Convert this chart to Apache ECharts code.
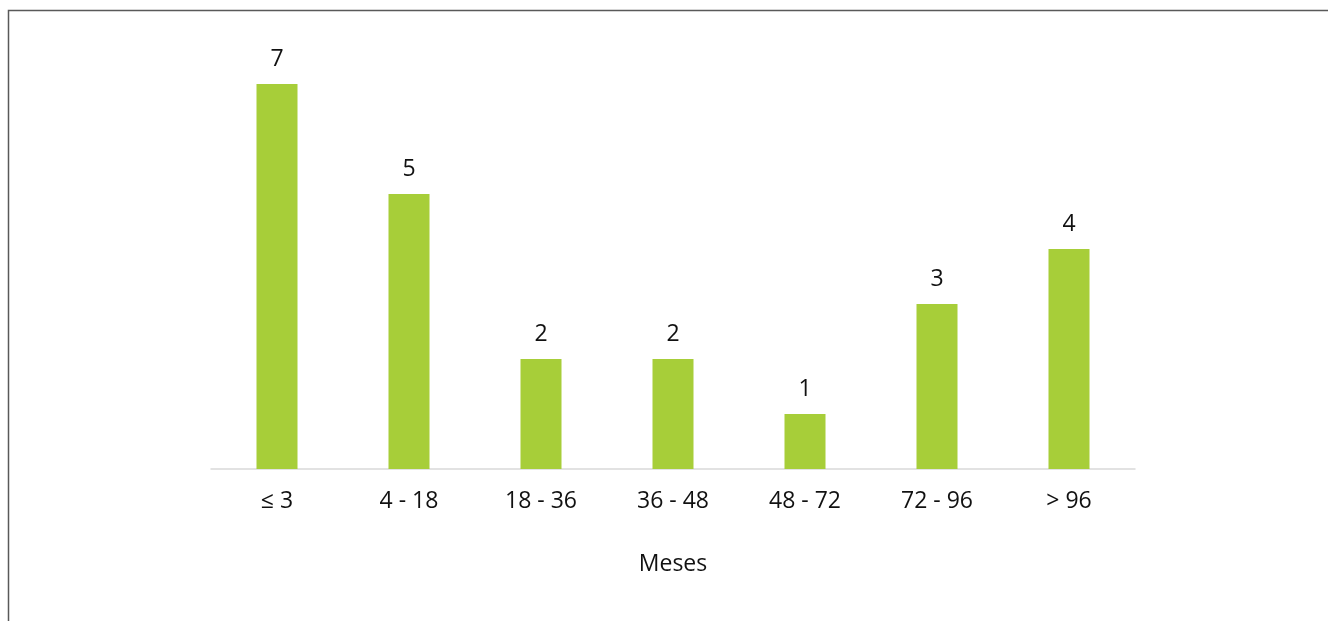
<!DOCTYPE html>
<html>
<head>
<meta charset="utf-8">
<script src="https://cdn.jsdelivr.net/npm/echarts@6/dist/echarts.min.js"></script>
<style>
  html, body { margin: 0; padding: 0; background: #fff; }
  #mainChart { width: 1328px; height: 621px; }
</style>
</head>
<body>
<div id="mainChart"></div>
<script>
  // categorias (meses) y valores
  const categories = ["≤ 3", "4 - 18", "18 - 36", "36 - 48", "48 - 72", "72 - 96", "> 96"];
  const values = [7, 5, 2, 2, 1, 3, 4];
  const axisTitle = "Meses";

  const myChart = echarts.init(document.getElementById("mainChart"));
  const font = "'Open Sans', 'Noto Sans', sans-serif";

  let option = {
    animation: false,
    textStyle: { fontFamily: font },
    // marco exterior
    graphic: [
      {
        type: "rect",
        shape: { x: 8.5, y: 10.5, width: 1400, height: 700 },
        style: { fill: "none", stroke: "#595959", lineWidth: 1.5 },
        silent: true,
      },
    ],
    grid: { left: 211, right: 193, top: 29, bottom: 152 },
    xAxis: {
      type: "category",
      data: categories,
      axisLine: { lineStyle: { color: "#d9d9d9", width: 1.5 } },
      axisTick: { show: false },
      axisLabel: { color: "#111", fontSize: 23, margin: 21, fontFamily: font },
      name: axisTitle,
      nameLocation: "middle",
      nameGap: 84,
      nameTextStyle: { color: "#111", fontSize: 23, fontFamily: font },
    },
    yAxis: {
      type: "value",
      min: 0,
      max: 8,
      show: false,
      splitLine: { show: false },
    },
    series: [
      {
        type: "bar",
        data: values,
        barWidth: 41,
        itemStyle: { color: "#a7ce39" },
        label: {
          show: true,
          position: "top",
          distance: 13,
          color: "#111",
          fontSize: 23,
          fontFamily: font,
        },
      },
    ],
  };

  myChart.setOption(option);
</script>
</body>
</html>
